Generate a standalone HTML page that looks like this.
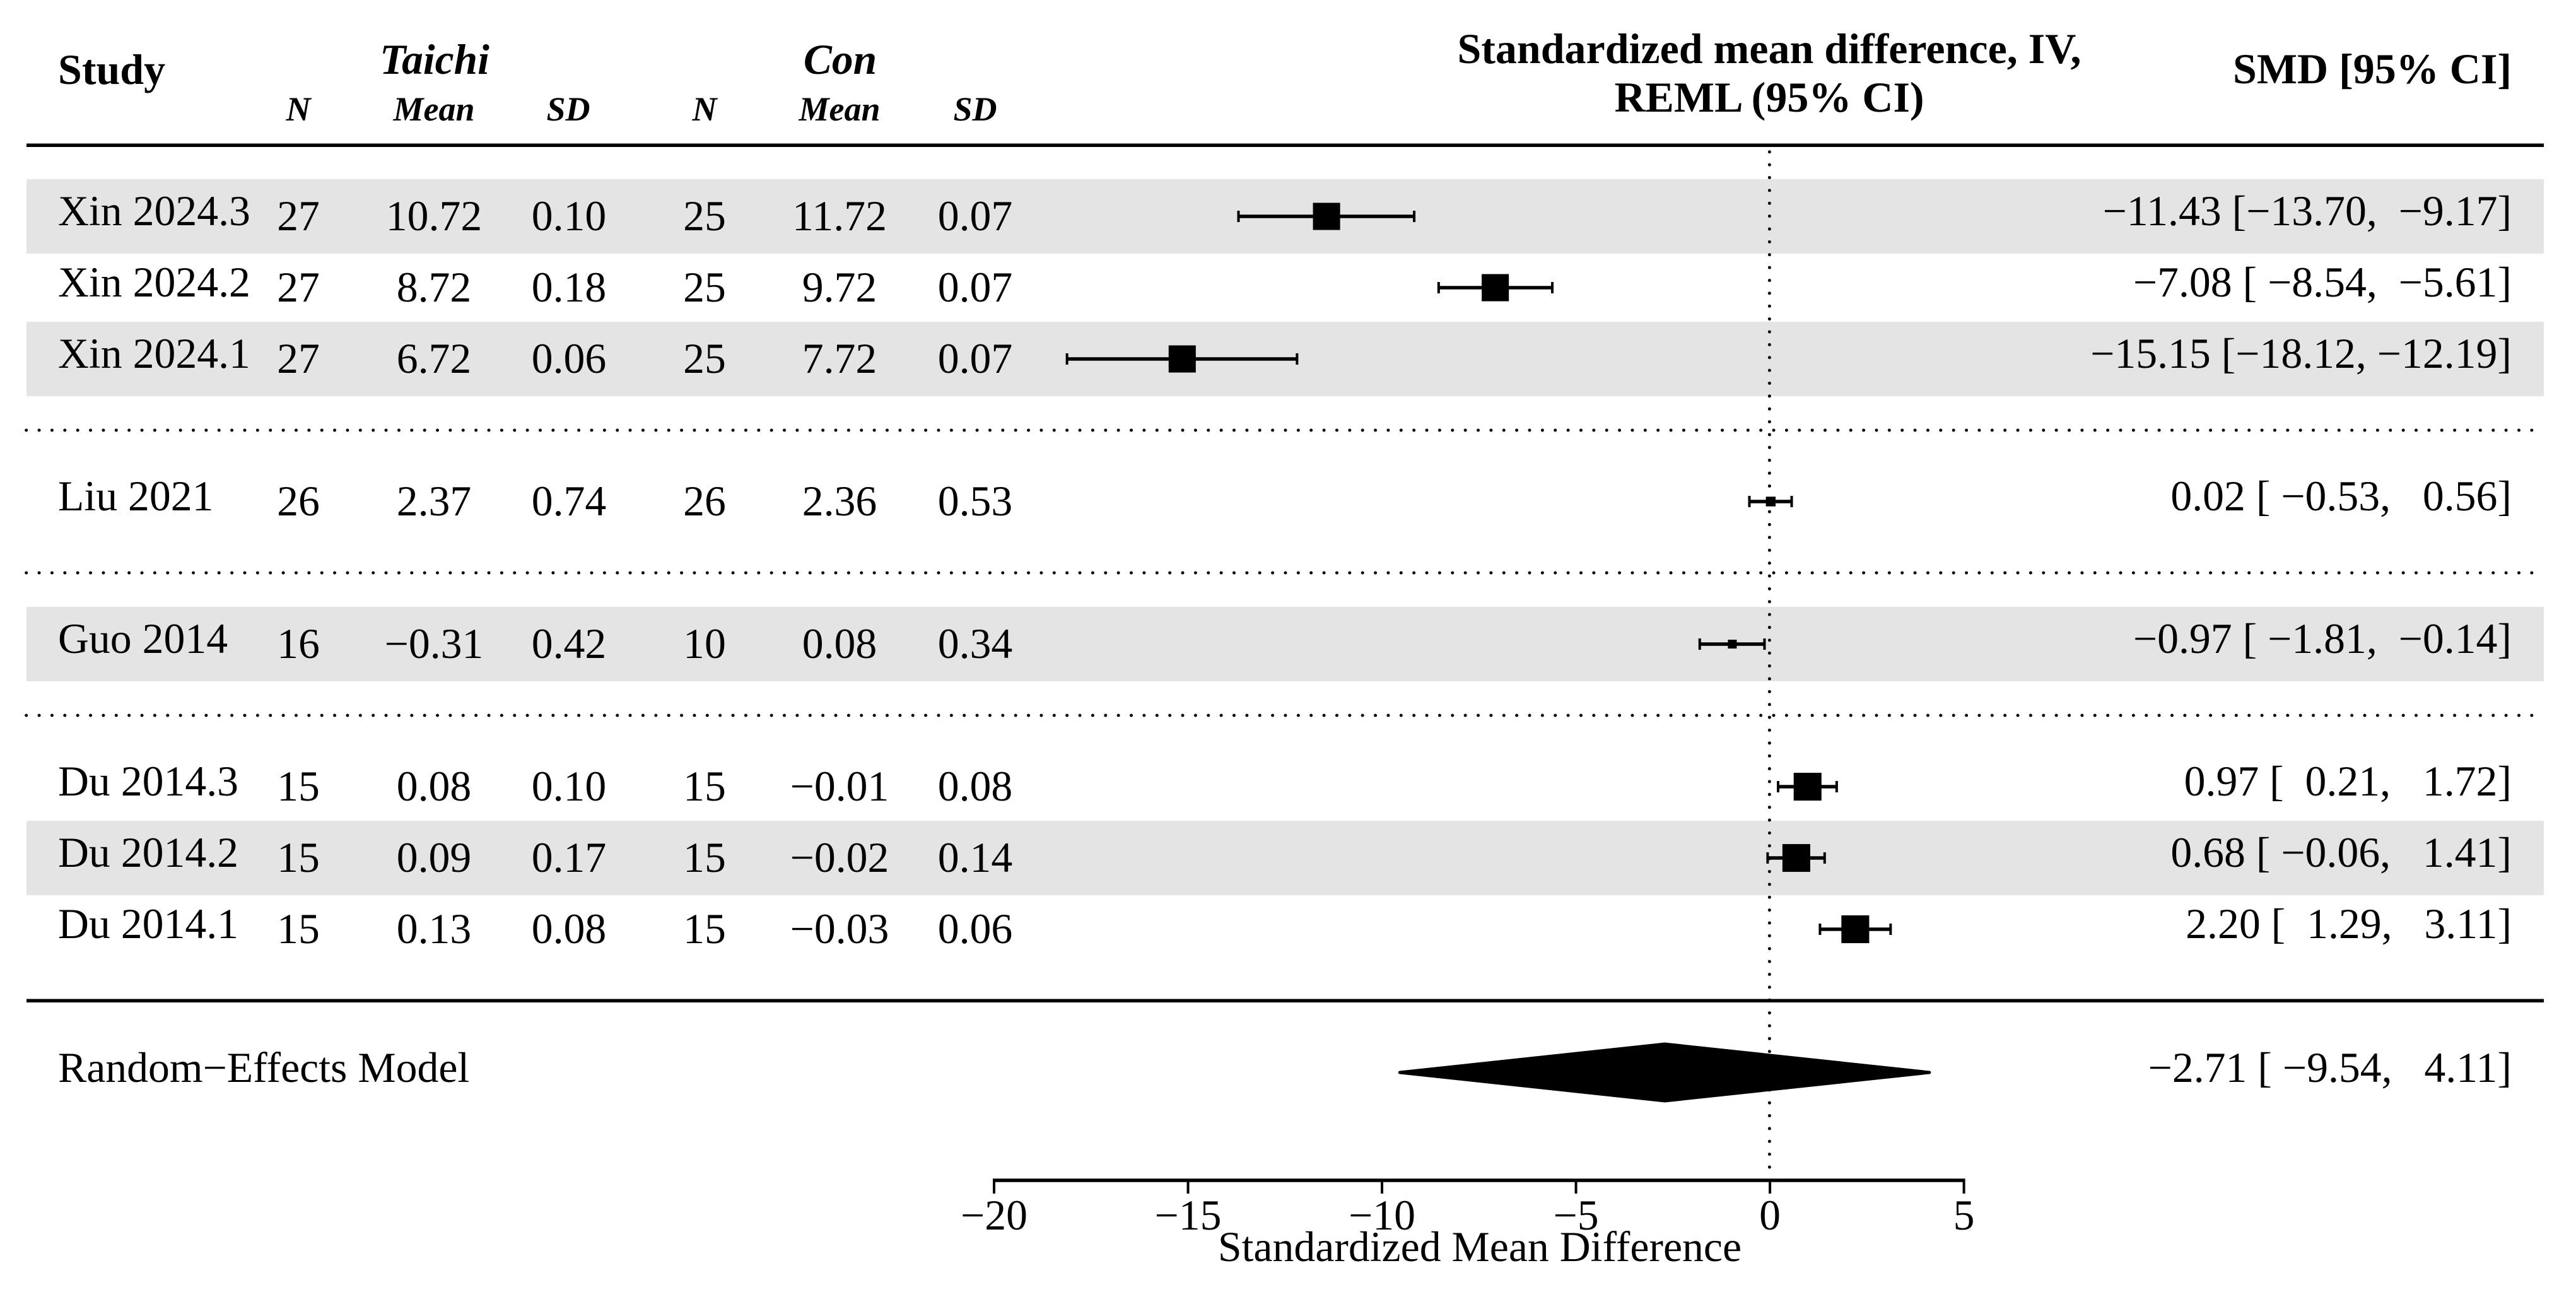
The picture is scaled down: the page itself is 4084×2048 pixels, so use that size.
<!DOCTYPE html>
<html lang="en">
<head>
<meta charset="utf-8">
<title>Forest plot: Taichi vs Con</title>
<style>
html,body{margin:0;padding:0;background:#fff;}
svg{display:block;}
text{font-family:"Liberation Serif","Times New Roman",serif;fill:#000;white-space:pre;}
.hd{font-weight:bold;font-size:68px;}
.grp{font-weight:bold;font-style:italic;font-size:67.5px;}
.sub{font-weight:bold;font-style:italic;font-size:54px;}
.cell{font-size:67.75px;}
</style>
</head>
<body>
<svg id="plot" xmlns="http://www.w3.org/2000/svg" width="4084" height="2048" viewBox="0 0 4084 2048">
  <rect x="0" y="0" width="4084" height="2048" fill="#ffffff"/>
  <g id="bands"></g>
  <g id="separators"></g>
  <g id="refline"></g>
  <g>
    <text class="hd" x="92" y="133">Study</text>
    <text class="grp" x="689" y="117" text-anchor="middle">Taichi</text>
    <text class="grp" x="1332" y="117" text-anchor="middle">Con</text>
    <text class="sub" x="473" y="191" text-anchor="middle">N</text>
    <text class="sub" x="688" y="191" text-anchor="middle">Mean</text>
    <text class="sub" x="901" y="191" text-anchor="middle">SD</text>
    <text class="sub" x="1117" y="191" text-anchor="middle">N</text>
    <text class="sub" x="1331" y="191" text-anchor="middle">Mean</text>
    <text class="sub" x="1546" y="191" text-anchor="middle">SD</text>
    <text class="hd" x="2805" y="100" text-anchor="middle">Standardized mean difference, IV,</text>
    <text class="hd" x="2805" y="177" text-anchor="middle">REML (95% CI)</text>
    <text class="hd" x="3982" y="132" text-anchor="end">SMD [95% CI]</text>
  </g>
  <rect x="42" y="227.5" width="3991" height="5.5" fill="#000"/>
  <g id="rows"></g>
  <g id="marks"></g>
  <rect x="42" y="1583.5" width="3991" height="5.5" fill="#000"/>
  <g id="summary"></g>
  <g id="axis"></g>
  <text class="cell" x="2346" y="1999" text-anchor="middle">Standardized Mean Difference</text>
</svg>
<script>
// ---- data ----
const studies = ["Xin 2024.3","Xin 2024.2","Xin 2024.1","Liu 2021","Guo 2014","Du 2014.3","Du 2014.2","Du 2014.1"];
const groups = ["Xin","Xin","Xin","Liu","Guo","Du","Du","Du"];
const taichiN = [27,27,27,26,16,15,15,15];
const taichiMean = [10.72,8.72,6.72,2.37,-0.31,0.08,0.09,0.13];
const taichiSD = [0.10,0.18,0.06,0.74,0.42,0.10,0.17,0.08];
const conN = [25,25,25,26,10,15,15,15];
const conMean = [11.72,9.72,7.72,2.36,0.08,-0.01,-0.02,-0.03];
const conSD = [0.07,0.07,0.07,0.53,0.34,0.08,0.14,0.06];
const smd = [-11.43,-7.08,-15.15,0.02,-0.97,0.97,0.68,2.20];
const ciLow = [-13.70,-8.54,-18.12,-0.53,-1.81,0.21,-0.06,1.29];
const ciHigh = [-9.17,-5.61,-12.19,0.56,-0.14,1.72,1.41,3.11];
const weights = [12.3,12.3,12.3,4.4,4.0,12.6,12.6,12.6];
const summaryLabel = "Random\u2212Effects Model";
const summaryEstimate = -2.71;
const summaryLow = -9.54;
const summaryHigh = 4.11;
const xTicks = [-20,-15,-10,-5,0,5];

// ---- scales ----
const SVGNS = "http://www.w3.org/2000/svg";
function xScale(v){ return 1576 + (v + 20) * (3113.6 - 1576) / 25; }
function rowY(slot){ return 343 + 113 * slot; }
function sizeScale(w){ return w * 3.5; }
function fmt(v,d){ const s = Math.abs(v).toFixed(d); return (v < 0 ? "\u2212" : "") + s; }
function pad(s,n){ while(s.length < n){ s = " " + s; } return s; }
function ciText(e,l,h){ return fmt(e,2) + " [" + pad(fmt(l,2),6) + ", " + pad(fmt(h,2),6) + "]"; }
function mk(parent,tag,attrs,content){
  const el = document.createElementNS(SVGNS,tag);
  for(const k in attrs){ el.setAttribute(k,attrs[k]); }
  if(content !== undefined){ el.textContent = content; }
  parent.appendChild(el);
  return el;
}

// row slots: consecutive within a group, one blank slot between groups
const slots = [];
groups.forEach(function(g,i){
  slots.push(i === 0 ? 0 : slots[i-1] + (g === groups[i-1] ? 1 : 2));
});
const summarySlot = slots[slots.length-1] + 2;

const bandsG = document.getElementById("bands");
const sepG = document.getElementById("separators");
const refG = document.getElementById("refline");
const rowsG = document.getElementById("rows");
const marksG = document.getElementById("marks");
const sumG = document.getElementById("summary");
const axisG = document.getElementById("axis");

// reference line
const refLine = mk(refG,"line",{x1:xScale(0)-0.7,x2:xScale(0)-0.7,y1:240.8,y2:1852,stroke:"#000","stroke-width":5,"stroke-linecap":"round","stroke-dasharray":"0 20.37"});



studies.forEach(function(name,i){
  const y = rowY(slots[i]);
  if(i % 2 === 0){
    const band = mk(bandsG,"rect",{x:42,y:y-59,width:3991,height:118,fill:"#e4e4e4"});
    
    
  }
  if(i > 0 && groups[i] !== groups[i-1]){
    const sy = (rowY(slots[i-1]) + y) / 2;
    const sep = mk(sepG,"line",{x1:41.7,x2:4020,y1:sy,y2:sy,stroke:"#000","stroke-width":5,"stroke-linecap":"round","stroke-dasharray":"0 20.37"});
    
    
  }
  const lab = mk(rowsG,"text",{class:"cell",x:92,y:y+14},name);
  
  

  const cN1 = mk(rowsG,"text",{class:"cell",x:473,y:y+22,"text-anchor":"middle"},String(taichiN[i]));
  
  
  const cM1 = mk(rowsG,"text",{class:"cell",x:688,y:y+22,"text-anchor":"middle"},fmt(taichiMean[i],2));
  
  
  const cS1 = mk(rowsG,"text",{class:"cell",x:902,y:y+22,"text-anchor":"middle"},fmt(taichiSD[i],2));
  
  
  const cN2 = mk(rowsG,"text",{class:"cell",x:1117,y:y+22,"text-anchor":"middle"},String(conN[i]));
  
  
  const cM2 = mk(rowsG,"text",{class:"cell",x:1331,y:y+22,"text-anchor":"middle"},fmt(conMean[i],2));
  
  
  const cS2 = mk(rowsG,"text",{class:"cell",x:1546,y:y+22,"text-anchor":"middle"},fmt(conSD[i],2));
  
  

  const ci = mk(rowsG,"text",{class:"cell",x:3982,y:y+14,"text-anchor":"end","xml:space":"preserve"},ciText(smd[i],ciLow[i],ciHigh[i]));
  
  

  // confidence interval whisker with end caps
  const whisker = mk(marksG,"line",{x1:xScale(ciLow[i]),x2:xScale(ciHigh[i]),y1:y,y2:y,stroke:"#000","stroke-width":5.5});
  
  
  const capL = mk(marksG,"line",{x1:xScale(ciLow[i]),x2:xScale(ciLow[i]),y1:y-9,y2:y+9,stroke:"#000","stroke-width":4});
  
  
  const capH = mk(marksG,"line",{x1:xScale(ciHigh[i]),x2:xScale(ciHigh[i]),y1:y-9,y2:y+9,stroke:"#000","stroke-width":4});
  
  
  // effect size square
  const s = sizeScale(weights[i]);
  const box = mk(marksG,"rect",{x:xScale(smd[i])-s/2,y:y-s/2,width:s,height:s,fill:"#000"});
  
  
});

// summary row
const sumY = rowY(summarySlot) + 1;
const sumLab = mk(sumG,"text",{class:"cell",x:92,y:sumY+15},summaryLabel);


const sumCi = mk(sumG,"text",{class:"cell",x:3982,y:sumY+15,"text-anchor":"end","xml:space":"preserve"},ciText(summaryEstimate,summaryLow,summaryHigh));


const diamond = mk(sumG,"polygon",{fill:"#000",stroke:"#000","stroke-width":5,"stroke-linejoin":"round",points:
  xScale(summaryLow)+","+sumY+" "+xScale(summaryEstimate)+","+(sumY-45)+" "+xScale(summaryHigh)+","+sumY+" "+xScale(summaryEstimate)+","+(sumY+45)});



// axis
const axisY = 1871;
const axisLine = mk(axisG,"line",{x1:xScale(xTicks[0])-2,x2:xScale(xTicks[xTicks.length-1])+2,y1:axisY,y2:axisY,stroke:"#000","stroke-width":5.5});


xTicks.forEach(function(t){
  const tick = mk(axisG,"line",{x1:xScale(t),x2:xScale(t),y1:axisY,y2:axisY+21,stroke:"#000","stroke-width":4});
  
  
  const lbl = mk(axisG,"text",{class:"cell",x:xScale(t),y:1949,"text-anchor":"middle"},fmt(t,0));
  
  
});
</script>
</body>
</html>
